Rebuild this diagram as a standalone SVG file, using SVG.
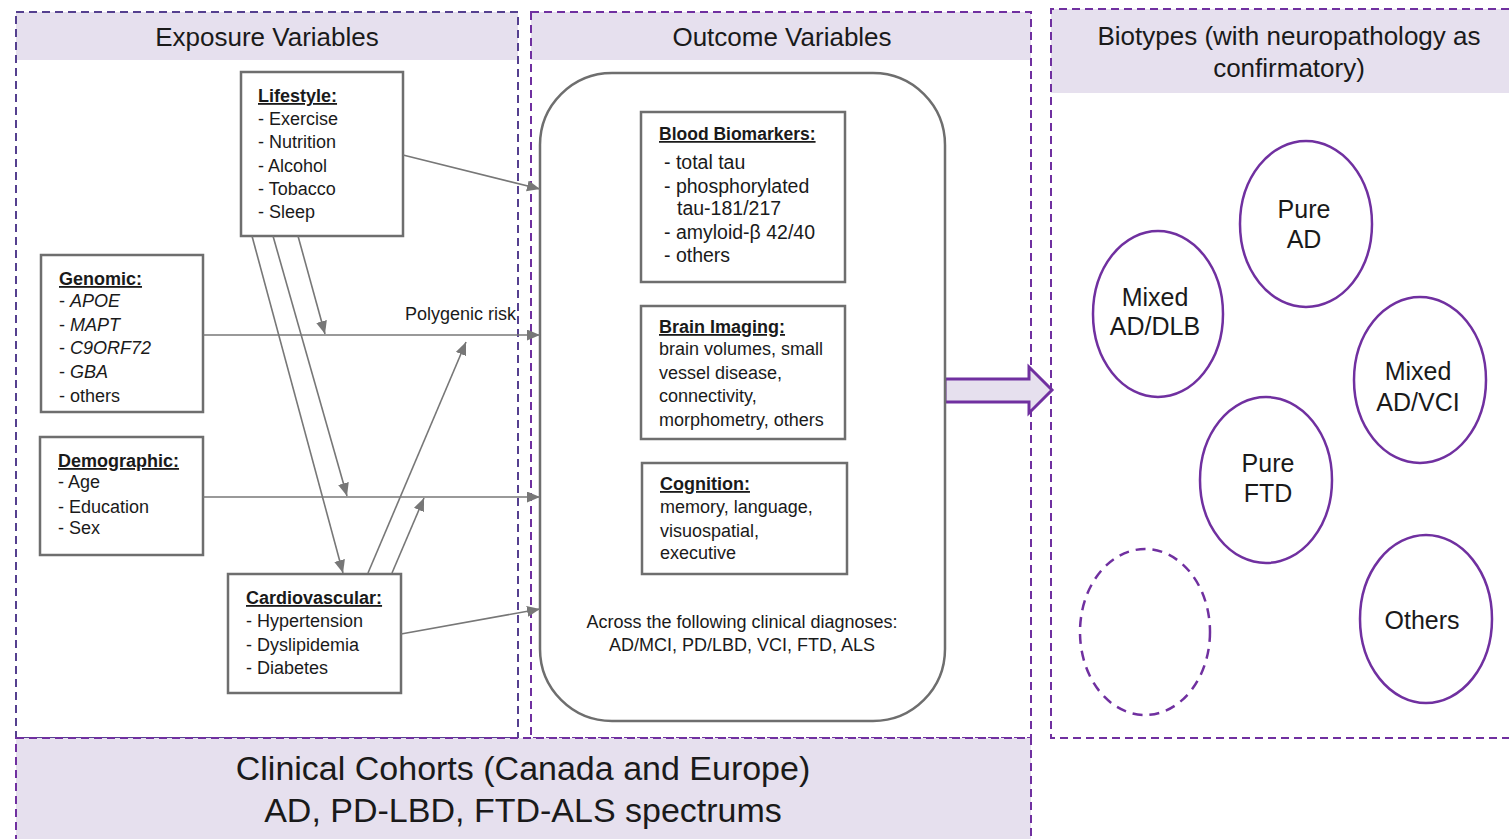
<svg xmlns="http://www.w3.org/2000/svg" width="1509" height="839" viewBox="0 0 1509 839">
<style>
.band{fill:#e6e0ee}
.panel{fill:none;stroke:#7030a0;stroke-width:2;stroke-dasharray:8 5}
.panel2{fill:none;stroke:#55408f;stroke-width:2;stroke-dasharray:8 5}
.box{fill:#fff;stroke:#6e6e6e;stroke-width:2.5}
.t{font-family:"Liberation Sans",Arial,sans-serif;fill:#1a1a1a}
.s18{font-size:18px}
.hd{font-size:18px;font-weight:bold;text-decoration:underline}
.big{font-size:26px}
.ell{fill:#fff;stroke:#7030a0;stroke-width:2.5}
.el{font-size:25px;text-anchor:middle}
.conn line{stroke:#777;stroke-width:1.6;marker-end:url(#ah)}
</style>
<defs>
<marker id="ah" markerUnits="userSpaceOnUse" markerWidth="14" markerHeight="12" refX="13" refY="5.5" orient="auto">
<path d="M0,0 L13,5.5 L0,11 z" fill="#777"/>
</marker>
</defs>
<rect width="1509" height="839" fill="#fff"/>

<g id="exposure-panel">
<rect class="band" x="16" y="12" width="502" height="48"/>
<rect class="panel2" x="16" y="12" width="502" height="726"/>
<text class="t big" x="267" y="46" text-anchor="middle">Exposure Variables</text>
</g>

<g id="outcome-panel">
<rect class="band" x="531" y="12" width="500" height="48"/>
<rect class="panel" x="531" y="12" width="500" height="726"/>
<text class="t big" x="782" y="46" text-anchor="middle">Outcome Variables</text>
</g>

<g id="biotypes-panel">
<rect class="band" x="1051" y="9" width="458" height="84"/>
<path class="panel" d="M1509,9 H1051 V738 H1509"/>
<text class="t big" x="1289" y="45" text-anchor="middle">Biotypes (with neuropathology as</text>
<text class="t big" x="1289" y="77" text-anchor="middle">confirmatory)</text>
</g>

<g id="cohorts-band">
<rect class="band" x="16" y="738" width="1015" height="110"/>
<rect class="panel" x="16" y="738" width="1015" height="110"/>
<text class="t" x="523" y="780" font-size="34" text-anchor="middle">Clinical Cohorts (Canada and Europe)</text>
<text class="t" x="523" y="822" font-size="34" text-anchor="middle">AD, PD-LBD, FTD-ALS spectrums</text>
</g>

<g id="big-arrow">
<polygon points="945,379 1029,379 1029,367 1052,390 1029,413 1029,402 945,402" fill="#e6e0ee" stroke="#7030a0" stroke-width="3" stroke-linejoin="miter"/>
</g>

<g id="outcome-container">
<rect x="540" y="73" width="405" height="648" rx="72" ry="72" fill="#fff" stroke="#6e6e6e" stroke-width="2.5"/>
<text class="t s18" x="742" y="628" text-anchor="middle">Across the following clinical diagnoses:</text>
<text class="t s18" x="742" y="651" text-anchor="middle">AD/MCI, PD/LBD, VCI, FTD, ALS</text>
</g>

<g id="lifestyle">
<rect class="box" x="241" y="72" width="162" height="164"/>
<text class="t hd" x="258" y="102">Lifestyle:</text>
<text class="t s18" x="258" y="125">- Exercise</text>
<text class="t s18" x="258" y="148">- Nutrition</text>
<text class="t s18" x="258" y="172">- Alcohol</text>
<text class="t s18" x="258" y="195">- Tobacco</text>
<text class="t s18" x="258" y="218">- Sleep</text>
</g>

<g id="genomic">
<rect class="box" x="41" y="255" width="162" height="157"/>
<text class="t hd" x="59" y="285">Genomic:</text>
<text class="t s18" x="59" y="307">- <tspan font-style="italic">APOE</tspan></text>
<text class="t s18" x="59" y="331">- <tspan font-style="italic">MAPT</tspan></text>
<text class="t s18" x="59" y="354">- <tspan font-style="italic">C9ORF72</tspan></text>
<text class="t s18" x="59" y="378">- <tspan font-style="italic">GBA</tspan></text>
<text class="t s18" x="59" y="402">- others</text>
</g>

<g id="demographic">
<rect class="box" x="40" y="437" width="163" height="118"/>
<text class="t hd" x="58" y="467">Demographic:</text>
<text class="t s18" x="58" y="488">- Age</text>
<text class="t s18" x="58" y="513">- Education</text>
<text class="t s18" x="58" y="534">- Sex</text>
</g>

<g id="cardiovascular">
<rect class="box" x="228" y="574" width="173" height="119"/>
<text class="t hd" x="246" y="604">Cardiovascular:</text>
<text class="t s18" x="246" y="627">- Hypertension</text>
<text class="t s18" x="246" y="651">- Dyslipidemia</text>
<text class="t s18" x="246" y="674">- Diabetes</text>
</g>

<g id="blood-biomarkers">
<rect class="box" x="641" y="112" width="204" height="170"/>
<text class="t" x="659" y="140" font-size="17.5" font-weight="bold" text-decoration="underline">Blood Biomarkers:</text>
<text class="t" x="664" y="169" font-size="19.5">- total tau</text>
<text class="t" x="664" y="193" font-size="19.5">- phosphorylated</text>
<text class="t" x="677" y="215" font-size="19.5">tau-181/217</text>
<text class="t" x="664" y="239" font-size="19.5">- amyloid-β 42/40</text>
<text class="t" x="664" y="262" font-size="19.5">- others</text>
</g>

<g id="brain-imaging">
<rect class="box" x="641" y="306" width="204" height="133"/>
<text class="t hd" x="659" y="333">Brain Imaging:</text>
<text class="t s18" x="659" y="355">brain volumes, small</text>
<text class="t s18" x="659" y="379">vessel disease,</text>
<text class="t s18" x="659" y="402">connectivity,</text>
<text class="t s18" x="659" y="426">morphometry, others</text>
</g>

<g id="cognition">
<rect class="box" x="642" y="463" width="205" height="111"/>
<text class="t hd" x="660" y="490">Cognition:</text>
<text class="t s18" x="660" y="513">memory, language,</text>
<text class="t s18" x="660" y="537">visuospatial,</text>
<text class="t s18" x="660" y="559">executive</text>
</g>

<g id="connectors" class="conn">
<line x1="403" y1="155" x2="540" y2="189"/>
<line x1="203" y1="335" x2="540" y2="335"/>
<line x1="203" y1="497" x2="540" y2="497"/>
<line x1="401" y1="634" x2="540" y2="609"/>
<line x1="298" y1="236" x2="325" y2="334"/>
<line x1="273" y1="236" x2="347" y2="496"/>
<line x1="252" y1="236" x2="343" y2="573"/>
<line x1="368" y1="573" x2="466" y2="342"/>
<line x1="392" y1="573" x2="424" y2="498"/>
<text class="t s18" x="405" y="320">Polygenic risk</text>
</g>

<g id="biotype-pure-ad">
<ellipse class="ell" cx="1306" cy="224" rx="66" ry="83"/>
<text class="t el" x="1304" y="218">Pure</text>
<text class="t el" x="1304" y="248">AD</text>
</g>
<g id="biotype-mixed-ad-dlb">
<ellipse class="ell" cx="1158" cy="314" rx="65" ry="83"/>
<text class="t el" x="1155" y="306">Mixed</text>
<text class="t el" x="1155" y="335">AD/DLB</text>
</g>
<g id="biotype-mixed-ad-vci">
<ellipse class="ell" cx="1420" cy="380" rx="66" ry="83"/>
<text class="t el" x="1418" y="380">Mixed</text>
<text class="t el" x="1418" y="411">AD/VCI</text>
</g>
<g id="biotype-pure-ftd">
<ellipse class="ell" cx="1266" cy="480" rx="66" ry="83"/>
<text class="t el" x="1268" y="472">Pure</text>
<text class="t el" x="1268" y="502">FTD</text>
</g>
<g id="biotype-unknown">
<ellipse class="ell" cx="1145" cy="632" rx="65" ry="83" stroke-dasharray="10 7"/>
</g>
<g id="biotype-others">
<ellipse class="ell" cx="1426" cy="619" rx="66" ry="84"/>
<text class="t el" x="1422" y="629">Others</text>
</g>
</svg>
